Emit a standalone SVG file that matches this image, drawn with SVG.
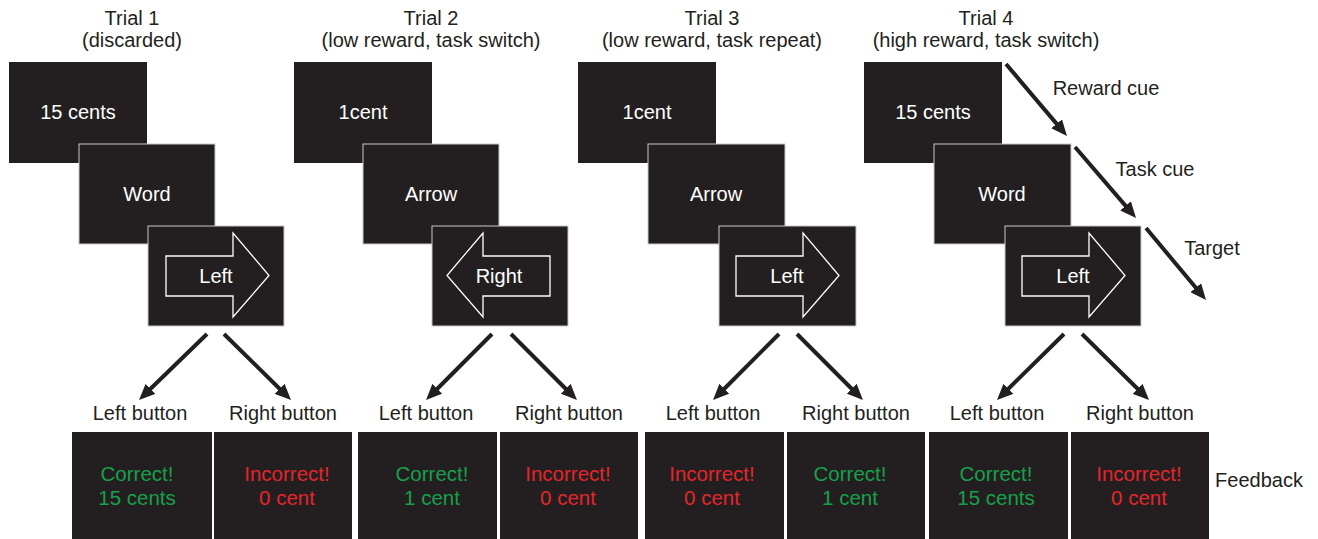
<svg xmlns="http://www.w3.org/2000/svg" width="1318" height="539" viewBox="0 0 1318 539">
<defs>
<style>
text{font-family:"Liberation Sans",Arial,Helvetica,sans-serif;font-size:20px;text-anchor:middle}
.lab{fill:#231f20}
.scr{fill:#231f20}
.scr2{fill:#231f20;stroke:#c8c8c8;stroke-width:1}
.wt{fill:#ffffff}
.cue{fill:none;stroke:#ffffff;stroke-width:1.3;stroke-linejoin:miter}
.fb{fill:#231f20}
.ok{fill:#17a04b;font-size:20.5px}
.no{fill:#e3262c;font-size:20.5px}
.con{stroke:#231f20;stroke-width:4;fill:none;marker-end:url(#ah)}
</style>
<marker id="ah" viewBox="0 0 16 14" markerUnits="userSpaceOnUse" markerWidth="16" markerHeight="14" refX="6" refY="7" orient="auto">
<path d="M0,0 L16,7 L0,14 Z" fill="#231f20"/>
</marker>
<path id="rarrow" d="M18,30 H85 V7 L121,49.5 L85,91 V70 H18 Z"/>
<path id="larrow" d="M118,30 H51 V7 L15,49.5 L51,91 V70 H118 Z"/>
</defs>
<rect width="1318" height="539" fill="#ffffff"/>

<!-- Trial 1 -->
<g id="trial1">
<text class="lab" x="132" y="25">Trial 1</text>
<text class="lab" x="132" y="47">(discarded)</text>
<g id="t1-reward"><rect class="scr" x="9" y="62" width="138" height="101"/><text class="wt" x="78" y="119">15 cents</text></g>
<g id="t1-task"><rect class="scr2" x="79" y="144" width="136" height="100"/><text class="wt" x="147" y="201">Word</text></g>
<g id="t1-target"><rect class="scr2" x="148" y="226" width="136" height="100"/><use href="#rarrow" class="cue" x="148" y="226"/><text class="wt" x="216" y="283">Left</text></g>
<g id="t1-left"><text class="lab" x="140" y="420">Left button</text></g>
<g id="t1-right"><text class="lab" x="283" y="420">Right button</text></g>
<g id="t1-fbA"><rect class="fb" x="72" y="432" width="140" height="107"/><text class="ok" x="137" y="481">Correct!</text><text class="ok" x="137" y="505">15 cents</text></g>
<g id="t1-fbB"><rect class="fb" x="214" y="432" width="138" height="107"/><text class="no" x="287" y="481">Incorrect!</text><text class="no" x="287" y="505">0 cent</text></g>
</g>

<!-- Trial 2 -->
<g id="trial2">
<text class="lab" x="431" y="25">Trial 2</text>
<text class="lab" x="431" y="47">(low reward, task switch)</text>
<g id="t2-reward"><rect class="scr" x="294" y="62" width="138" height="101"/><text class="wt" x="363" y="119">1cent</text></g>
<g id="t2-task"><rect class="scr2" x="363" y="144" width="136" height="100"/><text class="wt" x="431" y="201">Arrow</text></g>
<g id="t2-target"><rect class="scr2" x="432" y="226" width="136" height="100"/><use href="#larrow" class="cue" x="432" y="226"/><text class="wt" x="499" y="283">Right</text></g>
<g id="t2-left"><text class="lab" x="426" y="420">Left button</text></g>
<g id="t2-right"><text class="lab" x="569" y="420">Right button</text></g>
<g id="t2-fbA"><rect class="fb" x="358" y="432" width="139" height="107"/><text class="ok" x="432" y="481">Correct!</text><text class="ok" x="432" y="505">1 cent</text></g>
<g id="t2-fbB"><rect class="fb" x="500" y="432" width="138" height="107"/><text class="no" x="568" y="481">Incorrect!</text><text class="no" x="568" y="505">0 cent</text></g>
</g>

<!-- Trial 3 -->
<g id="trial3">
<text class="lab" x="712" y="25">Trial 3</text>
<text class="lab" x="712" y="47">(low reward, task repeat)</text>
<g id="t3-reward"><rect class="scr" x="578" y="62" width="138" height="101"/><text class="wt" x="647" y="119">1cent</text></g>
<g id="t3-task"><rect class="scr2" x="648" y="144" width="137" height="100"/><text class="wt" x="716" y="201">Arrow</text></g>
<g id="t3-target"><rect class="scr2" x="719" y="226" width="137" height="100"/><use href="#rarrow" class="cue" x="718" y="226"/><text class="wt" x="787" y="283">Left</text></g>
<g id="t3-left"><text class="lab" x="713" y="420">Left button</text></g>
<g id="t3-right"><text class="lab" x="856" y="420">Right button</text></g>
<g id="t3-fbA"><rect class="fb" x="645" y="432" width="139" height="107"/><text class="no" x="712" y="481">Incorrect!</text><text class="no" x="712" y="505">0 cent</text></g>
<g id="t3-fbB"><rect class="fb" x="787" y="432" width="138" height="107"/><text class="ok" x="850" y="481">Correct!</text><text class="ok" x="850" y="505">1 cent</text></g>
</g>

<!-- Trial 4 -->
<g id="trial4">
<text class="lab" x="986" y="25">Trial 4</text>
<text class="lab" x="986" y="47">(high reward, task switch)</text>
<g id="t4-reward"><rect class="scr" x="864" y="62" width="138" height="101"/><text class="wt" x="933" y="119">15 cents</text></g>
<g id="t4-task"><rect class="scr2" x="934" y="144" width="137" height="100"/><text class="wt" x="1002" y="201">Word</text></g>
<g id="t4-target"><rect class="scr2" x="1005" y="226" width="136" height="100"/><use href="#rarrow" class="cue" x="1004" y="226"/><text class="wt" x="1073" y="283">Left</text></g>
<g id="t4-left"><text class="lab" x="997" y="420">Left button</text></g>
<g id="t4-right"><text class="lab" x="1140" y="420">Right button</text></g>
<g id="t4-fbA"><rect class="fb" x="929" y="432" width="139" height="107"/><text class="ok" x="996" y="481">Correct!</text><text class="ok" x="996" y="505">15 cents</text></g>
<g id="t4-fbB"><rect class="fb" x="1071" y="432" width="138" height="107"/><text class="no" x="1139" y="481">Incorrect!</text><text class="no" x="1139" y="505">0 cent</text></g>
</g>

<g id="labels">
<text class="lab" x="1106" y="95">Reward cue</text>
<text class="lab" x="1155" y="176">Task cue</text>
<text class="lab" x="1212" y="255">Target</text>
<text class="lab" x="1259" y="487">Feedback</text>
</g>

<g id="connectors">
<line class="con" x1="207" y1="334" x2="146.2" y2="393"/>
<line class="con" x1="224" y1="334" x2="283.9" y2="393"/>
<line class="con" x1="492" y1="334" x2="433.1" y2="393"/>
<line class="con" x1="511" y1="334" x2="569.9" y2="393"/>
<line class="con" x1="779" y1="334" x2="720.1" y2="393"/>
<line class="con" x1="797" y1="334" x2="855.9" y2="393"/>
<line class="con" x1="1064" y1="334" x2="1004.1" y2="393"/>
<line class="con" x1="1082" y1="334" x2="1141.9" y2="393"/>
<line class="con" x1="1006" y1="64" x2="1060.5" y2="128.4"/>
<line class="con" x1="1075" y1="147" x2="1129.5" y2="210.4"/>
<line class="con" x1="1146" y1="228" x2="1199.6" y2="292.3"/>
</g>
</svg>
